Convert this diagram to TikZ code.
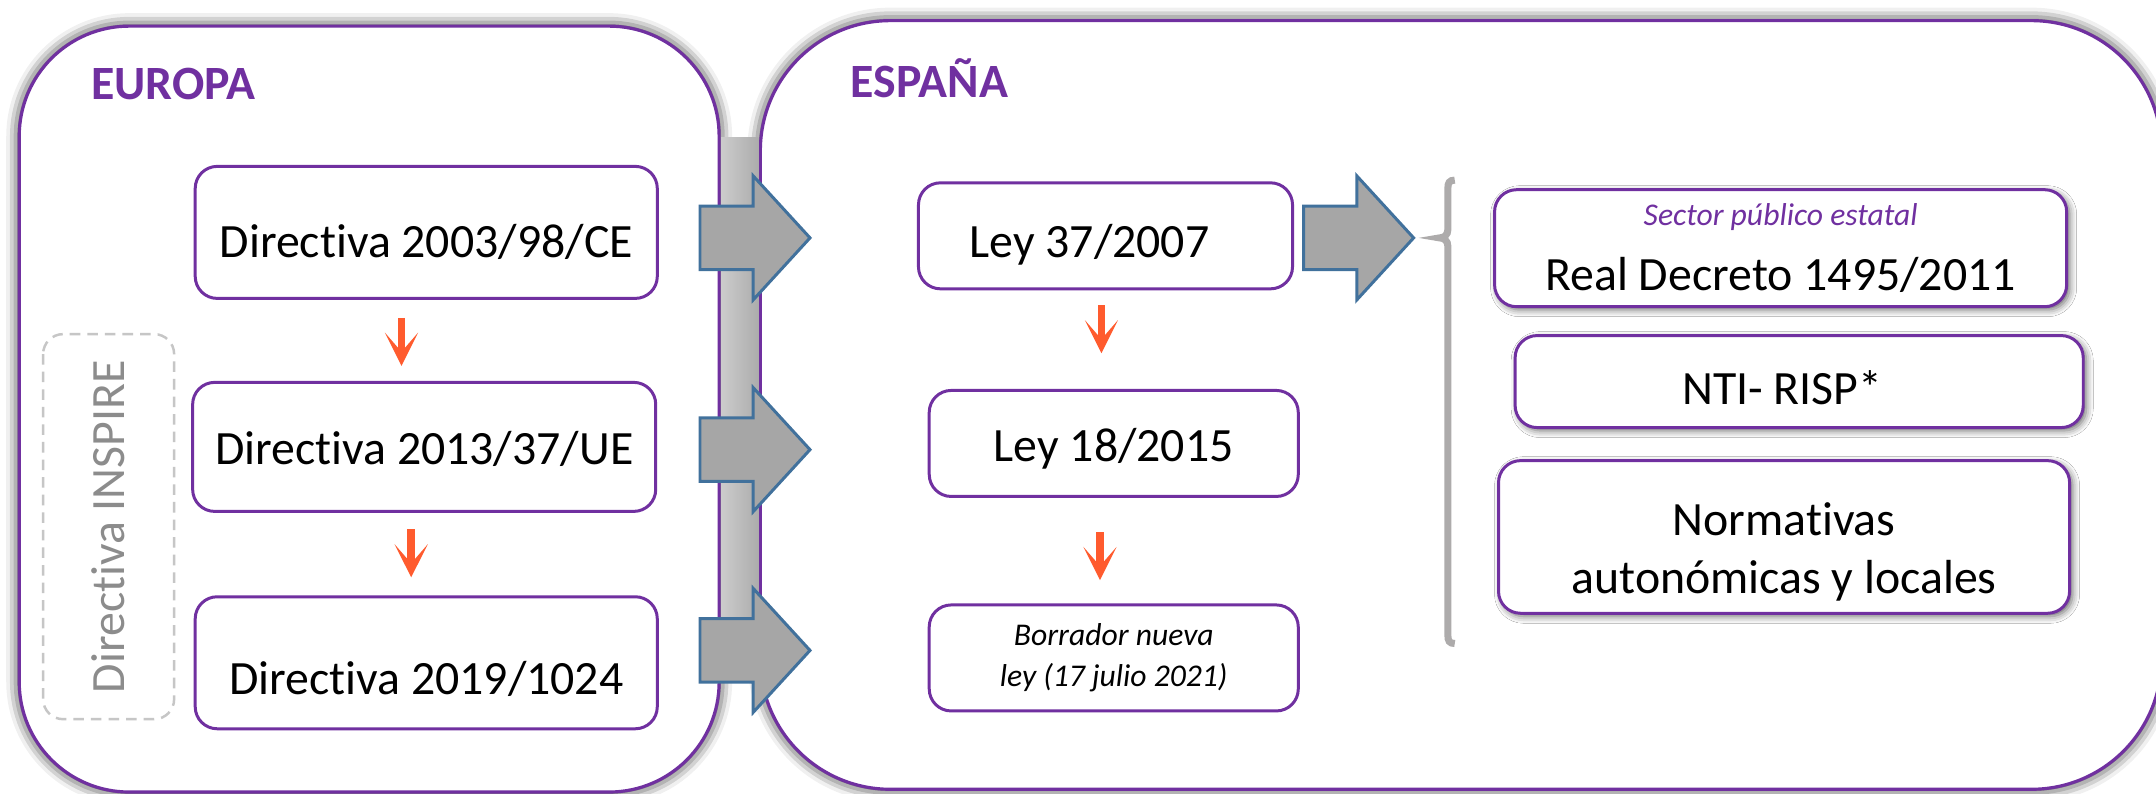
\documentclass[tikz,border=0pt]{standalone}
\usepackage{fontspec}
\setmainfont{Carlito}[Ligatures=NoCommon]
\usetikzlibrary{shapes.arrows, shadows.blur, arrows.meta}

\definecolor{euPurple}{HTML}{7030A0}
\definecolor{arrGray}{HTML}{A6A6A6}
\definecolor{arrBlue}{HTML}{41719C}
\definecolor{stepOrange}{HTML}{FF5B2E}
\definecolor{braceGray}{HTML}{ADABAB}

\begin{document}
\begin{tikzpicture}[x=0.01375cm, y=-0.01375cm,
    every node/.style={font=\fontsize{13.6}{16.4}\selectfont},
    panel/.style={draw=euPurple, line width=0.9pt, fill=white, rounded corners=1.1cm,
        blur shadow={shadow xshift=0pt, shadow yshift=0pt, shadow blur radius=0.13cm, shadow opacity=95}},
    lawbox/.style={draw=euPurple, line width=0.85pt, fill=white, rounded corners=0.22cm, align=center},
    shadowbox/.style={lawbox, blur shadow={shadow xshift=0.03cm, shadow yshift=-0.03cm, shadow blur radius=0.07cm, shadow opacity=60}},
    textdrop/.style={text depth=0cm, text height=#1},
    blockarrow/.style={single arrow, draw=arrBlue, fill=arrGray, line width=0.85pt, inner xsep=0pt, inner ysep=0.3025cm,
        minimum height=1.1cm, single arrow head extend=0.3025cm, single arrow tip angle=95, anchor=tail},
    nextlaw/.style={draw=stepOrange, line width=2.2pt, -{Stealth[length=0.33cm, width=0.33cm, inset=0.19cm]}},
    title/.style={font=\fontsize{13.6}{15.5}\selectfont\bfseries, text=euPurple},
    note/.style={font=\fontsize{9}{11.7}\selectfont\itshape},
    inspirebox/.style={draw=gray!45, line width=0.7pt, dash pattern=on 3pt off 2pt, rounded corners=0.2cm, text=gray!90}
]
\useasboundingbox (0,0) rectangle (1568,577);

% Panels
\draw[panel] (14,19) rectangle (523,576);
\draw[panel, rounded corners=1.3cm] (553,15) rectangle (1572,574);
\shade[left color=gray!40, middle color=white, right color=gray!65] (524.5,100) rectangle (551.5,490);

% Titles
\node[title] (eu) at (126,61) {EUROPA};
\node[title] (es) at (676,57) {ESPAÑA};

% INSPIRE
\node[inspirebox, rotate=90, minimum width=3.85cm, minimum height=1.31cm] (inspire) at (79,383) {Directiva INSPIRE};

% Europe
\node[lawbox, textdrop=0.5cm, minimum width=4.62cm, minimum height=1.32cm] (dir03) at (310,169) {Directiva 2003/98/CE};
\node[lawbox, textdrop=0.36cm, minimum width=4.63cm, minimum height=1.29cm] (dir13) at (308.5,325) {Directiva 2013/37/UE};
\node[lawbox, textdrop=0.63cm, minimum width=4.62cm, minimum height=1.32cm] (dir19) at (310,482) {Directiva 2019/1024};

% Spain
\node[lawbox, textdrop=0.44cm, minimum width=3.74cm, minimum height=1.06cm] (ley07) at (804,171.5) {Ley 37/2007\hspace{0.32cm}};
\node[lawbox, textdrop=0.37cm, minimum width=3.69cm, minimum height=1.06cm] (ley15) at (810,322.5) {Ley 18/2015};
\node[lawbox, note, minimum width=3.69cm, minimum height=1.06cm] (borrador) at (810,478.5) {Borrador nueva\\ley (17 julio 2021)};

% Development
\node[shadowbox, minimum width=5.72cm, minimum height=1.17cm] (rd) at (1295,180.5) {{\color{euPurple}\fontsize{9}{11}\selectfont\itshape Sector público estatal}\\[2pt]Real Decreto 1495/2011};
\node[shadowbox, textdrop=0.46cm, minimum width=5.68cm, minimum height=0.92cm] (nti) at (1308.5,277.5) {NTI- RISP*\hspace{0.34cm}};
\node[shadowbox, minimum width=5.71cm, minimum height=1.526cm] (autonom) at (1297.5,390.5) {\rule{0pt}{0.63cm}Normativas\\autonómicas y locales};

% Transposition arrows
\node[blockarrow] (toley07) at (508,173) {};
\node[blockarrow] (toley15) at (508,327) {};
\node[blockarrow] (toborr) at (508,473) {};
\node[blockarrow] (tords) at (947,173) {};

% Brace
\draw[braceGray, line width=2pt] (1058,131) .. controls (1054,131) and (1053,133) .. (1053,137) -- (1053,167)
    .. controls (1053,171) and (1050,173) .. (1047,173) .. controls (1050,173) and (1053,175) .. (1053,179)
    -- (1053,462) .. controls (1053,466) and (1054,468) .. (1058,468);

% Arrows
\draw[nextlaw, shorten <=0.179cm, shorten >=0.151cm] ([xshift=-0.2475cm]dir03.south) -- ([xshift=-0.2475cm]dir03.south |- dir13.north);
\draw[nextlaw, shorten <=0.165cm, shorten >=0.179cm] ([xshift=-0.13cm]dir13.south) -- ([xshift=-0.13cm]dir13.south |- dir19.north);
\draw[nextlaw, shorten <=0.151cm, shorten >=0.3575cm] ([xshift=-0.041cm]ley07.south) -- ([xshift=-0.041cm]ley07.south |- ley15.north);
\draw[nextlaw, shorten <=0.344cm, shorten >=0.234cm] ([xshift=-0.1375cm]ley15.south) -- ([xshift=-0.1375cm]ley15.south |- borrador.north);
\end{tikzpicture}
\end{document}
